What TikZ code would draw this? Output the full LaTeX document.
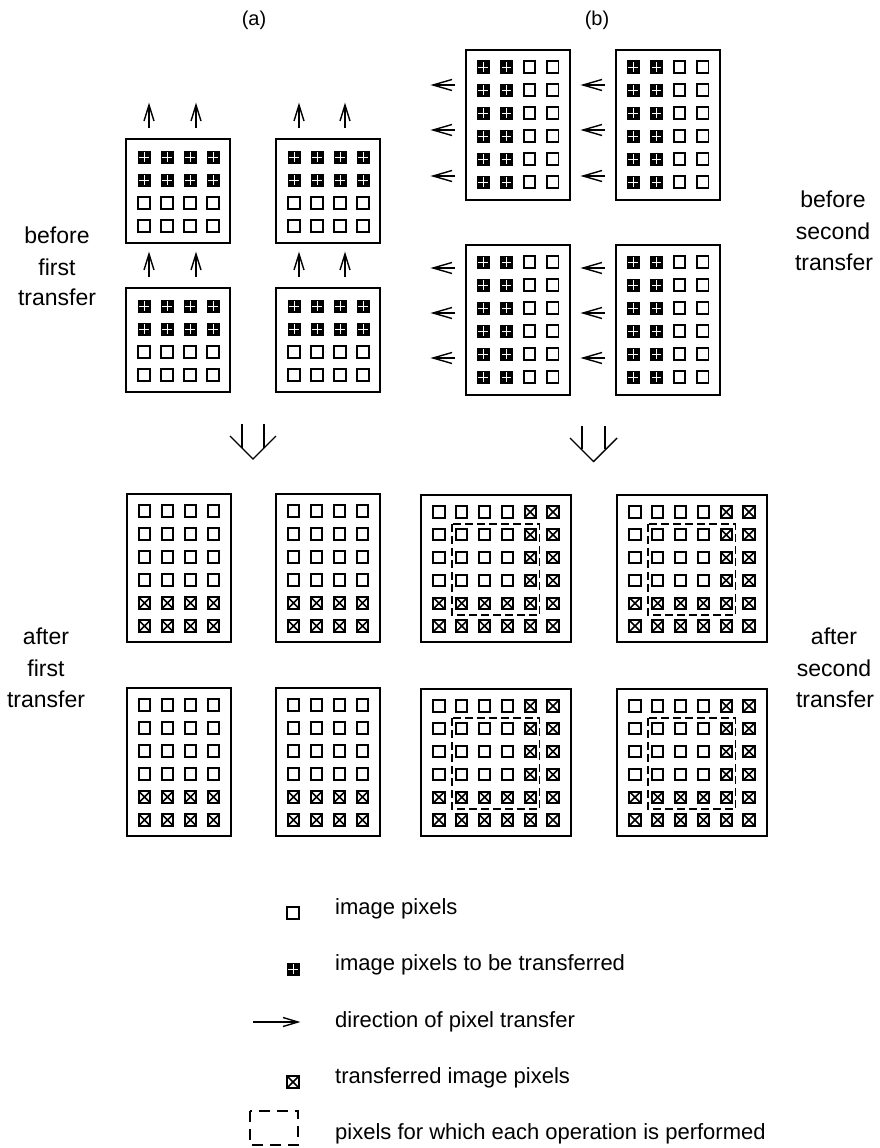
\documentclass[tikz,border=0pt]{standalone}
\usepackage{fontspec}
\setmainfont{Liberation Sans}
\newcommand\upArr[2]{\draw[arr] (#1,#2+23)--(#1,#2); \draw[arr] (#1-5,#2+16)--(#1,#2)--(#1+5,#2+16);}
\newcommand\leftArr[2]{\draw[arr] (#1+22,#2)--(#1,#2); \draw[arr] (#1+19,#2-5.5)--(#1,#2)--(#1+19,#2+5.5);}
\newcommand\panelAtop[2]{%
  \draw[frame] (#1,#2) rectangle ++(104,104);
  \foreach \i in {0,...,3}{%
    \foreach \j in {0,1}{\pic at ({#1+18+23*\i},{#2+18+23*\j}) {ptrans};}
    \foreach \j in {2,3}{\pic at ({#1+18+23*\i},{#2+18+23*\j}) {pplain};}}}
\newcommand\panelAbot[2]{%
  \draw[frame] (#1,#2) rectangle ++(104,148);
  \foreach \i in {0,...,3}{%
    \foreach \j in {0,...,3}{\pic at ({#1+17.5+23*\i},{#2+17+23*\j}) {pplain};}
    \foreach \j in {4,5}{\pic at ({#1+17.5+23*\i},{#2+17+23*\j}) {pdone};}}}
\newcommand\panelBtop[2]{%
  \draw[frame] (#1,#2) rectangle ++(104,150);
  \foreach \j in {0,...,5}{%
    \foreach \i in {0,1}{\pic at ({#1+17+23.3*\i},{#2+17+23*\j}) {ptrans};}
    \foreach \i in {2,3}{\pic at ({#1+17+23.3*\i},{#2+17+23*\j}) {pplain};}}}
\newcommand\panelBbot[2]{%
  \draw[frame] (#1,#2) rectangle ++(150,147);
  \foreach \j in {0,...,3}{%
    \foreach \i in {0,...,3}{\pic at ({#1+18+22.8*\i},{#2+17+22.8*\j}) {pplain};}
    \foreach \i in {4,5}{\pic at ({#1+18+22.8*\i},{#2+17+22.8*\j}) {pdone};}}
  \foreach \j in {4,5}{\foreach \i in {0,...,5}{\pic at ({#1+18+22.8*\i},{#2+17+22.8*\j}) {pdone};}}
  \draw[dashbox] ({#1+31},{#2+29}) rectangle ({#1+118.5},{#2+120});}
\begin{document}
\begin{tikzpicture}[x=1pt,y=-1pt,
  frame/.style={line width=1.5pt},
  arr/.style={line width=1.4pt},
  dashbox/.style={line width=1.3pt, dash pattern=on 8pt off 4pt},
  lbl/.style={font=\fontsize{23}{27}\selectfont, anchor=base, inner sep=0pt},
  lgd/.style={font=\fontsize{22}{26}\selectfont, anchor=base west, inner sep=0pt},
  pplain/.pic={\draw[line width=1.9pt] (-5.6,-5.6) rectangle (5.6,5.6);},
  ptrans/.pic={\fill (-6.5,-6.5) rectangle (6.5,6.5); \draw[white, line width=0.9pt] (-4.6,0)--(4.6,0) (0,-4.6)--(0,4.6);},
  pdone/.pic={\draw[line width=1.9pt] (-5.6,-5.6) rectangle (5.6,5.6); \draw[line width=1.6pt] (-5.6,-5.6)--(5.6,5.6) (-5.6,5.6)--(5.6,-5.6);}
]
\fill[white] (0,0) rectangle (880,1148);
\useasboundingbox (0,0) rectangle (880,1148);

% headings
\node[lbl, font=\fontsize{20}{24}\selectfont] (ha) at (254,26) {(a)};
\node[lbl, font=\fontsize{20}{24}\selectfont] (hb) at (597,26) {(b)};

% side labels
\node[lbl] (bf1) at (57,243) {before};
\node[lbl] (bf2) at (57,275) {first};
\node[lbl] (bf3) at (57,305) {transfer};
\node[lbl] (bs1) at (833,207) {before};
\node[lbl] (bs2) at (833,239) {second};
\node[lbl] (bs3) at (834,270) {transfer};
\node[lbl] (af1) at (46,644) {after};
\node[lbl] (af2) at (46,676) {first};
\node[lbl] (af3) at (46,707) {transfer};
\node[lbl] (as1) at (834,644) {after};
\node[lbl] (as2) at (834,676) {second};
\node[lbl] (as3) at (835,707) {transfer};

% (a) before
\panelAtop{126}{139}
\panelAtop{276}{139}
\panelAtop{126}{288}
\panelAtop{276}{288}
\foreach \x in {149,196,299,345}{\upArr{\x}{105}\upArr{\x}{254}}

% (b) before
\panelBtop{466}{50}
\panelBtop{616}{50}
\panelBtop{466}{245}
\panelBtop{616}{245}
\foreach \y in {85,130,176,268,313,358}{\leftArr{433}{\y}\leftArr{583}{\y}}

% down arrows
\draw[arr] (242,424)--(242,448) (264,424)--(264,448);
\draw[arr] (230,436)--(253,459)--(276,436);
\draw[arr] (582,426)--(582,449) (605,426)--(605,449);
\draw[arr] (570,438)--(593.5,461.5)--(617,438);

% (a) after
\panelAbot{127}{494}
\panelAbot{276}{494}
\panelAbot{127}{688}
\panelAbot{276}{688}

% (b) after
\panelBbot{421}{495}
\panelBbot{617}{495}
\panelBbot{421}{689}
\panelBbot{617}{689}

% legend
\pic at (293,913) {pplain};
\pic at (293,969) {ptrans};
\draw[arr] (253,1022)--(297,1022);
\draw[arr] (283,1017.5)--(298,1022)--(283,1026.5);
\pic at (293,1082) {pdone};
\draw[line width=1.3pt, dash pattern=on 11pt off 7pt] (250,1111) rectangle (298,1145);
\node[lgd] (l1) at (335,914) {image pixels};
\node[lgd] (l2) at (335,970) {image pixels to be transferred};
\node[lgd] (l3) at (335,1027) {direction of pixel transfer};
\node[lgd] (l4) at (335,1083) {transferred image pixels};
\node[lgd] (l5) at (335,1139) {pixels for which each operation is performed};
\end{tikzpicture}
\end{document}
